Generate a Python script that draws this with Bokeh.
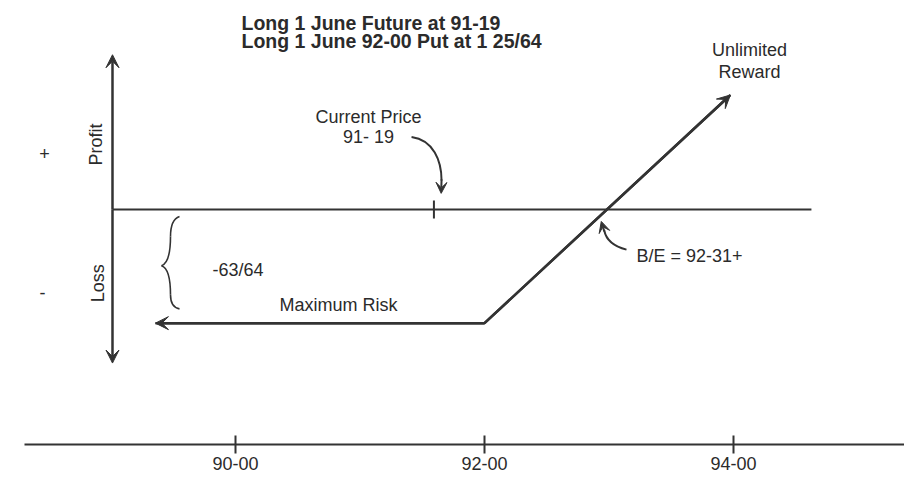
from bokeh.plotting import figure
from bokeh.models import Range1d, FixedTicker, Arrow, VeeHead
from bokeh.core.properties import value
from bokeh.embed import file_html
from bokeh.resources import INLINE
import math

# ---- data -------------------------------------------------------------
futures_price = 91 + 19 / 32          # long 1 June future at 91-19
put_strike = 92.0                     # June 92-00 put
put_premium = 1 + 25 / 64             # bought at 1 25/64
price_ticks = [90, 92, 94]
price_tick_labels = ["90-00", "92-00", "94-00"]
payoff_prices = [89.357, put_strike, 93.975]     # left end, kink, right end
zero_line_prices = [89.012, 94.626]


def profit(s):
    return (s - futures_price) + max(put_strike - s, 0.0) - put_premium


payoff_profits = [profit(s) for s in payoff_prices]
breakeven = futures_price + put_premium   # 92-31+

INK = "#333333"
TXT = "#2b2b2b"
FONT = value("Liberation Sans")

p = figure(width=904, height=472, output_backend="svg", toolbar_location=None,
           x_range=Range1d(88.3052, 95.3735), y_range=Range1d(-2.035, 1.748),
           x_axis_location="below", y_axis_location=None,
           min_border=0, min_border_left=24, min_border_right=0, min_border_top=7,
           outline_line_color=None, background_fill_color="white")
p.grid.visible = False

ax = p.xaxis[0]
ax.ticker = FixedTicker(ticks=price_ticks)
ax.major_label_overrides = {t: l for t, l in zip(price_ticks, price_tick_labels)}
ax.axis_line_color = INK
ax.axis_line_width = 2
ax.major_tick_line_color = INK
ax.major_tick_line_width = 2
ax.major_tick_in = 9
ax.major_tick_out = 9
ax.minor_tick_line_color = None
ax.major_label_text_font = "Liberation Sans"
ax.major_label_text_font_size = "18px"
ax.major_label_text_color = TXT
ax.major_label_standoff = 3

# zero (profit = 0) line
p.line(zero_line_prices, [0, 0], line_color=INK, line_width=2)

# current price tick on zero line
p.segment(x0=[futures_price], y0=[-0.078], x1=[futures_price], y1=[0.078],
          line_color=INK, line_width=2)

# payoff line
p.line(payoff_prices, payoff_profits, line_color=INK, line_width=2.5)

def head(size=13):
    return VeeHead(size=size, fill_color=INK, line_color=INK, line_width=1)

# payoff end arrows
p.add_layout(Arrow(x_start=put_strike, y_start=payoff_profits[1],
                   x_end=payoff_prices[0], y_end=payoff_profits[0],
                   end=head(), line_color=INK, line_width=2.5))
p.add_layout(Arrow(x_start=put_strike, y_start=payoff_profits[1],
                   x_end=payoff_prices[2], y_end=payoff_profits[2],
                   end=head(), line_color=INK, line_width=2.5))

# vertical profit/loss arrow
vx = zero_line_prices[0]
p.add_layout(Arrow(x_start=vx, y_start=0, x_end=vx, y_end=1.339,
                   end=head(), line_color=INK, line_width=2.5))
p.add_layout(Arrow(x_start=vx, y_start=0, x_end=vx, y_end=-1.330,
                   end=head(), line_color=INK, line_width=2.5))

# curved arrow: Current Price
p.bezier(x0=[91.414], y0=[0.626], x1=[91.655], y1=[0.25],
         cx0=[91.59], cy0=[0.60], cx1=[91.655], cy1=[0.42],
         line_color=INK, line_width=2)
p.add_layout(Arrow(x_start=91.655, y_start=0.26, x_end=91.652, y_end=0.139,
                   end=head(11), line_color=INK, line_width=2))

# curved arrow: B/E
p.bezier(x0=[93.1405], y0=[-0.348], x1=[92.962], y1=[-0.183],
         cx0=[93.044], cy0=[-0.322], cx1=[92.978], cy1=[-0.270],
         line_color=INK, line_width=2)
p.add_layout(Arrow(x_start=92.962, y_start=-0.19, x_end=92.938, y_end=-0.104,
                   end=head(11), line_color=INK, line_width=2))

# brace for maximum loss
p.bezier(x0=[89.5502, 89.4779, 89.4056, 89.4779],
         y0=[-0.0607, -0.2348, -0.4870, -0.7391],
         x1=[89.4779, 89.4056, 89.4779, 89.5502],
         y1=[-0.2348, -0.4870, -0.7391, -0.8609],
         cx0=[89.5020, 89.4779, 89.4538, 89.4779],
         cy0=[-0.0783, -0.4000, -0.5043, -0.8174],
         cx1=[89.4779, 89.4538, 89.4779, 89.5020],
         cy1=[-0.1474, -0.4696, -0.5739, -0.8522],
         line_color=INK, line_width=1.6)

# titles
p.text(x=[90.048, 90.048], y=[1.615, 1.462],
       text=["Long 1 June Future at 91-19", "Long 1 June 92-00 Put at 1 25/64"],
       text_font=FONT, text_font_style="bold", text_font_size="19.5px",
       text_color=TXT, text_align="left", text_baseline="alphabetic")

# centered annotations
p.text(x=[91.068, 91.068, 94.128, 94.128],
       y=[0.800, 0.626, 1.383, 1.1915],
       text=["Current Price", "91- 19", "Unlimited", "Reward"],
       text_font=FONT, text_font_size="18px", text_color=TXT,
       text_align="center", text_baseline="alphabetic")

# left-aligned annotations
p.text(x=[93.221, 89.815, 90.353],
       y=[-0.400, -0.522, -0.826],
       text=["B/E = 92-31+", "-63/64", "Maximum Risk"],
       text_font=FONT, text_font_size="18px", text_color=TXT,
       text_align="left", text_baseline="alphabetic")

# + / - signs
p.text(x=[88.466, 88.450], y=[0.487, -0.722], text=["+", "-"],
       text_font=FONT, text_font_size="18px", text_color=TXT,
       text_align="center", text_baseline="alphabetic")

# rotated Profit / Loss
p.text(x=[88.883, 88.892], y=[0.561, -0.639], text=["Profit", "Loss"],
       angle=math.pi / 2, text_font=FONT, text_font_size="18px", text_color=TXT,
       text_align="center", text_baseline="alphabetic")

open("out.html", "w").write(file_html(p, INLINE))
